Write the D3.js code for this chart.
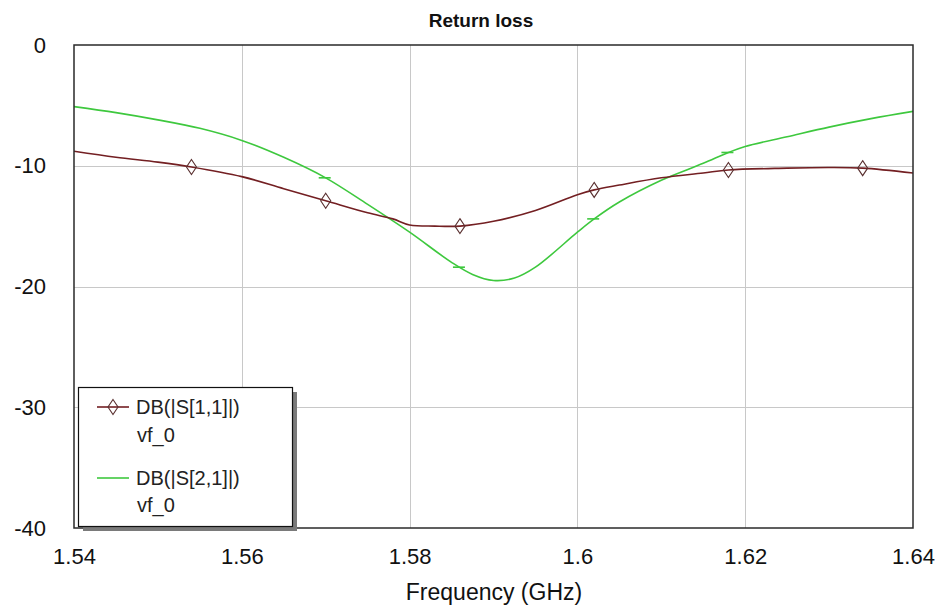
<!DOCTYPE html>
<html>
<head>
<meta charset="utf-8">
<script src="https://cdn.jsdelivr.net/npm/d3@7"></script>
<style>
  html, body { margin: 0; padding: 0; background: #fff; }
  svg { display: block; font-family: "Liberation Sans", Arial, sans-serif; }
</style>
</head>
<body>
<svg id="chart" width="939" height="613"></svg>
<script>
// Frequency sweep (GHz) and return-loss traces (dB)
const freqS11 = [1.540, 1.545, 1.550, 1.554, 1.560, 1.565, 1.570, 1.575, 1.578, 1.580, 1.583, 1.586, 1.590, 1.595, 1.600, 1.602, 1.605, 1.610, 1.615, 1.618, 1.625, 1.630, 1.634, 1.640];
const dbS11   = [-8.8, -9.3, -9.7, -10.1, -10.9, -11.9, -12.9, -13.9, -14.4, -14.9, -15.0, -15.0, -14.6, -13.7, -12.4, -12.0, -11.6, -11.0, -10.6, -10.35, -10.2, -10.15, -10.2, -10.6];

const freqS21 = [1.540, 1.545, 1.550, 1.555, 1.560, 1.565, 1.570, 1.575, 1.580, 1.585, 1.5875, 1.590, 1.5925, 1.595, 1.600, 1.602, 1.605, 1.610, 1.615, 1.618, 1.620, 1.625, 1.630, 1.635, 1.640];
const dbS21   = [-5.1, -5.6, -6.2, -6.9, -7.9, -9.3, -11.0, -13.2, -15.5, -18.0, -19.0, -19.5, -19.3, -18.4, -15.5, -14.4, -13.0, -11.2, -9.8, -8.9, -8.4, -7.6, -6.8, -6.1, -5.5];

// Marker frequencies for each trace
const markerFreqs = [1.554, 1.570, 1.586, 1.602, 1.618, 1.634];
const dashFreqs = [1.570, 1.586, 1.602, 1.618];

const xTicks = [1.54, 1.56, 1.58, 1.60, 1.62, 1.64];
const xTickLabels = ["1.54", "1.56", "1.58", "1.6", "1.62", "1.64"];
const yTicks = [0, -10, -20, -30, -40];
const yTickLabels = ["0", "-10", "-20", "-30", "-40"];

const legendNames = ["DB(|S[1,1]|)", "DB(|S[2,1]|)"];
const legendSub = "vf_0";

const colS11 = "#731f22";
const colS21 = "#3ec83e";

const svg = d3.select("#chart");
const plot = { left: 74, right: 913, top: 45, bottom: 528 };

const x = d3.scaleLinear().domain([1.54, 1.64]).range([plot.left, plot.right]);
const y = d3.scaleLinear().domain([-40, 0]).range([plot.bottom, plot.top]);

// grid
const grid = svg.append("g").attr("stroke", "#c8c8c8").attr("stroke-width", 1);
xTicks.slice(1, -1).forEach(t => {
  grid.append("line").attr("x1", Math.round(x(t)) + 0.5).attr("x2", Math.round(x(t)) + 0.5)
    .attr("y1", plot.top).attr("y2", plot.bottom);
});
yTicks.slice(1, -1).forEach(t => {
  grid.append("line").attr("y1", Math.round(y(t)) + 0.5).attr("y2", Math.round(y(t)) + 0.5)
    .attr("x1", plot.left).attr("x2", plot.right);
});

// traces
const clipId = "plotclip";
svg.append("clipPath").attr("id", clipId).append("rect")
  .attr("x", plot.left).attr("y", plot.top)
  .attr("width", plot.right - plot.left).attr("height", plot.bottom - plot.top);

const line = d3.line().x(d => x(d[0])).y(d => y(d[1])).curve(d3.curveCatmullRom.alpha(0.5));
const s11 = d3.zip(freqS11, dbS11);
const s21 = d3.zip(freqS21, dbS21);

const traces = svg.append("g").attr("clip-path", `url(#${clipId})`);
traces.append("path").datum(s21).attr("d", line)
  .attr("fill", "none").attr("stroke", colS21).attr("stroke-width", 1.6);
traces.append("path").datum(s11).attr("d", line)
  .attr("fill", "none").attr("stroke", colS11).attr("stroke-width", 1.6);

// value lookup along a trace
function interp(fs, vs, f) {
  return d3.scaleLinear().domain(fs).range(vs)(f);
}

// S21 dash markers
dashFreqs.forEach(f => {
  const cx = x(f), cy = y(interp(freqS21, dbS21, f));
  svg.append("line").attr("x1", cx - 7).attr("x2", cx + 5).attr("y1", cy).attr("y2", cy)
    .attr("stroke", colS21).attr("stroke-width", 1.6);
});

// S11 diamond markers
function diamond(g, cx, cy) {
  g.append("path")
    .attr("d", `M${cx},${cy - 7.5}L${cx + 5},${cy}L${cx},${cy + 7.5}L${cx - 5},${cy}Z`)
    .attr("fill", "none").attr("stroke", "#5a3030").attr("stroke-width", 1.1);
}
markerFreqs.forEach(f => diamond(svg, x(f), y(interp(freqS11, dbS11, f))));

// plot frame
svg.append("rect").attr("x", plot.left).attr("y", plot.top)
  .attr("width", plot.right - plot.left).attr("height", plot.bottom - plot.top)
  .attr("fill", "none").attr("stroke", "#2a2a2a").attr("stroke-width", 1.5);

// axes labels via d3 axes (tick lines hidden)
const xAxis = d3.axisBottom(x).tickValues(xTicks).tickFormat((d, i) => xTickLabels[i]).tickSize(0).tickPadding(20);
const gx = svg.append("g").attr("transform", `translate(0,${plot.bottom})`).call(xAxis);
gx.select(".domain").remove();
gx.selectAll("text").attr("font-size", 22).attr("fill", "#111").attr("font-family", "Liberation Sans, Arial, sans-serif");

const yAxis = d3.axisLeft(y).tickValues(yTicks).tickFormat((d, i) => yTickLabels[i]).tickSize(0).tickPadding(28);
const gy = svg.append("g").attr("transform", `translate(${plot.left},0)`).call(yAxis);
gy.select(".domain").remove();
gy.selectAll("text").attr("font-size", 22).attr("fill", "#111").attr("font-family", "Liberation Sans, Arial, sans-serif");

// title and axis title
svg.append("text").attr("x", 481).attr("y", 27).attr("text-anchor", "middle")
  .attr("font-size", 19).attr("font-weight", "bold").attr("fill", "#111").text("Return loss");
svg.append("text").attr("x", 494).attr("y", 600).attr("text-anchor", "middle")
  .attr("font-size", 23).attr("fill", "#111").text("Frequency (GHz)");

// legend
const lg = svg.append("g");
lg.append("rect").attr("x", 83).attr("y", 392).attr("width", 214).attr("height", 139).attr("fill", "#7a7a7a");
lg.append("rect").attr("x", 78.5).attr("y", 387.5).attr("width", 214).attr("height", 139)
  .attr("fill", "#fff").attr("stroke", "#111").attr("stroke-width", 1.2);

const rows = [
  { name: legendNames[0], color: colS11, ly: 407, ty: 414, sy: 442, marker: true },
  { name: legendNames[1], color: colS21, ly: 478, ty: 485, sy: 512, marker: false }
];
rows.forEach(r => {
  lg.append("line").attr("x1", 97).attr("x2", 129).attr("y1", r.ly).attr("y2", r.ly)
    .attr("stroke", r.color).attr("stroke-width", 1.6);
  if (r.marker) diamond(lg, 113, r.ly);
  lg.append("text").attr("x", 136).attr("y", r.ty).attr("font-size", 20).attr("fill", "#222").text(r.name);
  lg.append("text").attr("x", 137).attr("y", r.sy).attr("font-size", 20).attr("fill", "#222").text(legendSub);
});
</script>
</body>
</html>
